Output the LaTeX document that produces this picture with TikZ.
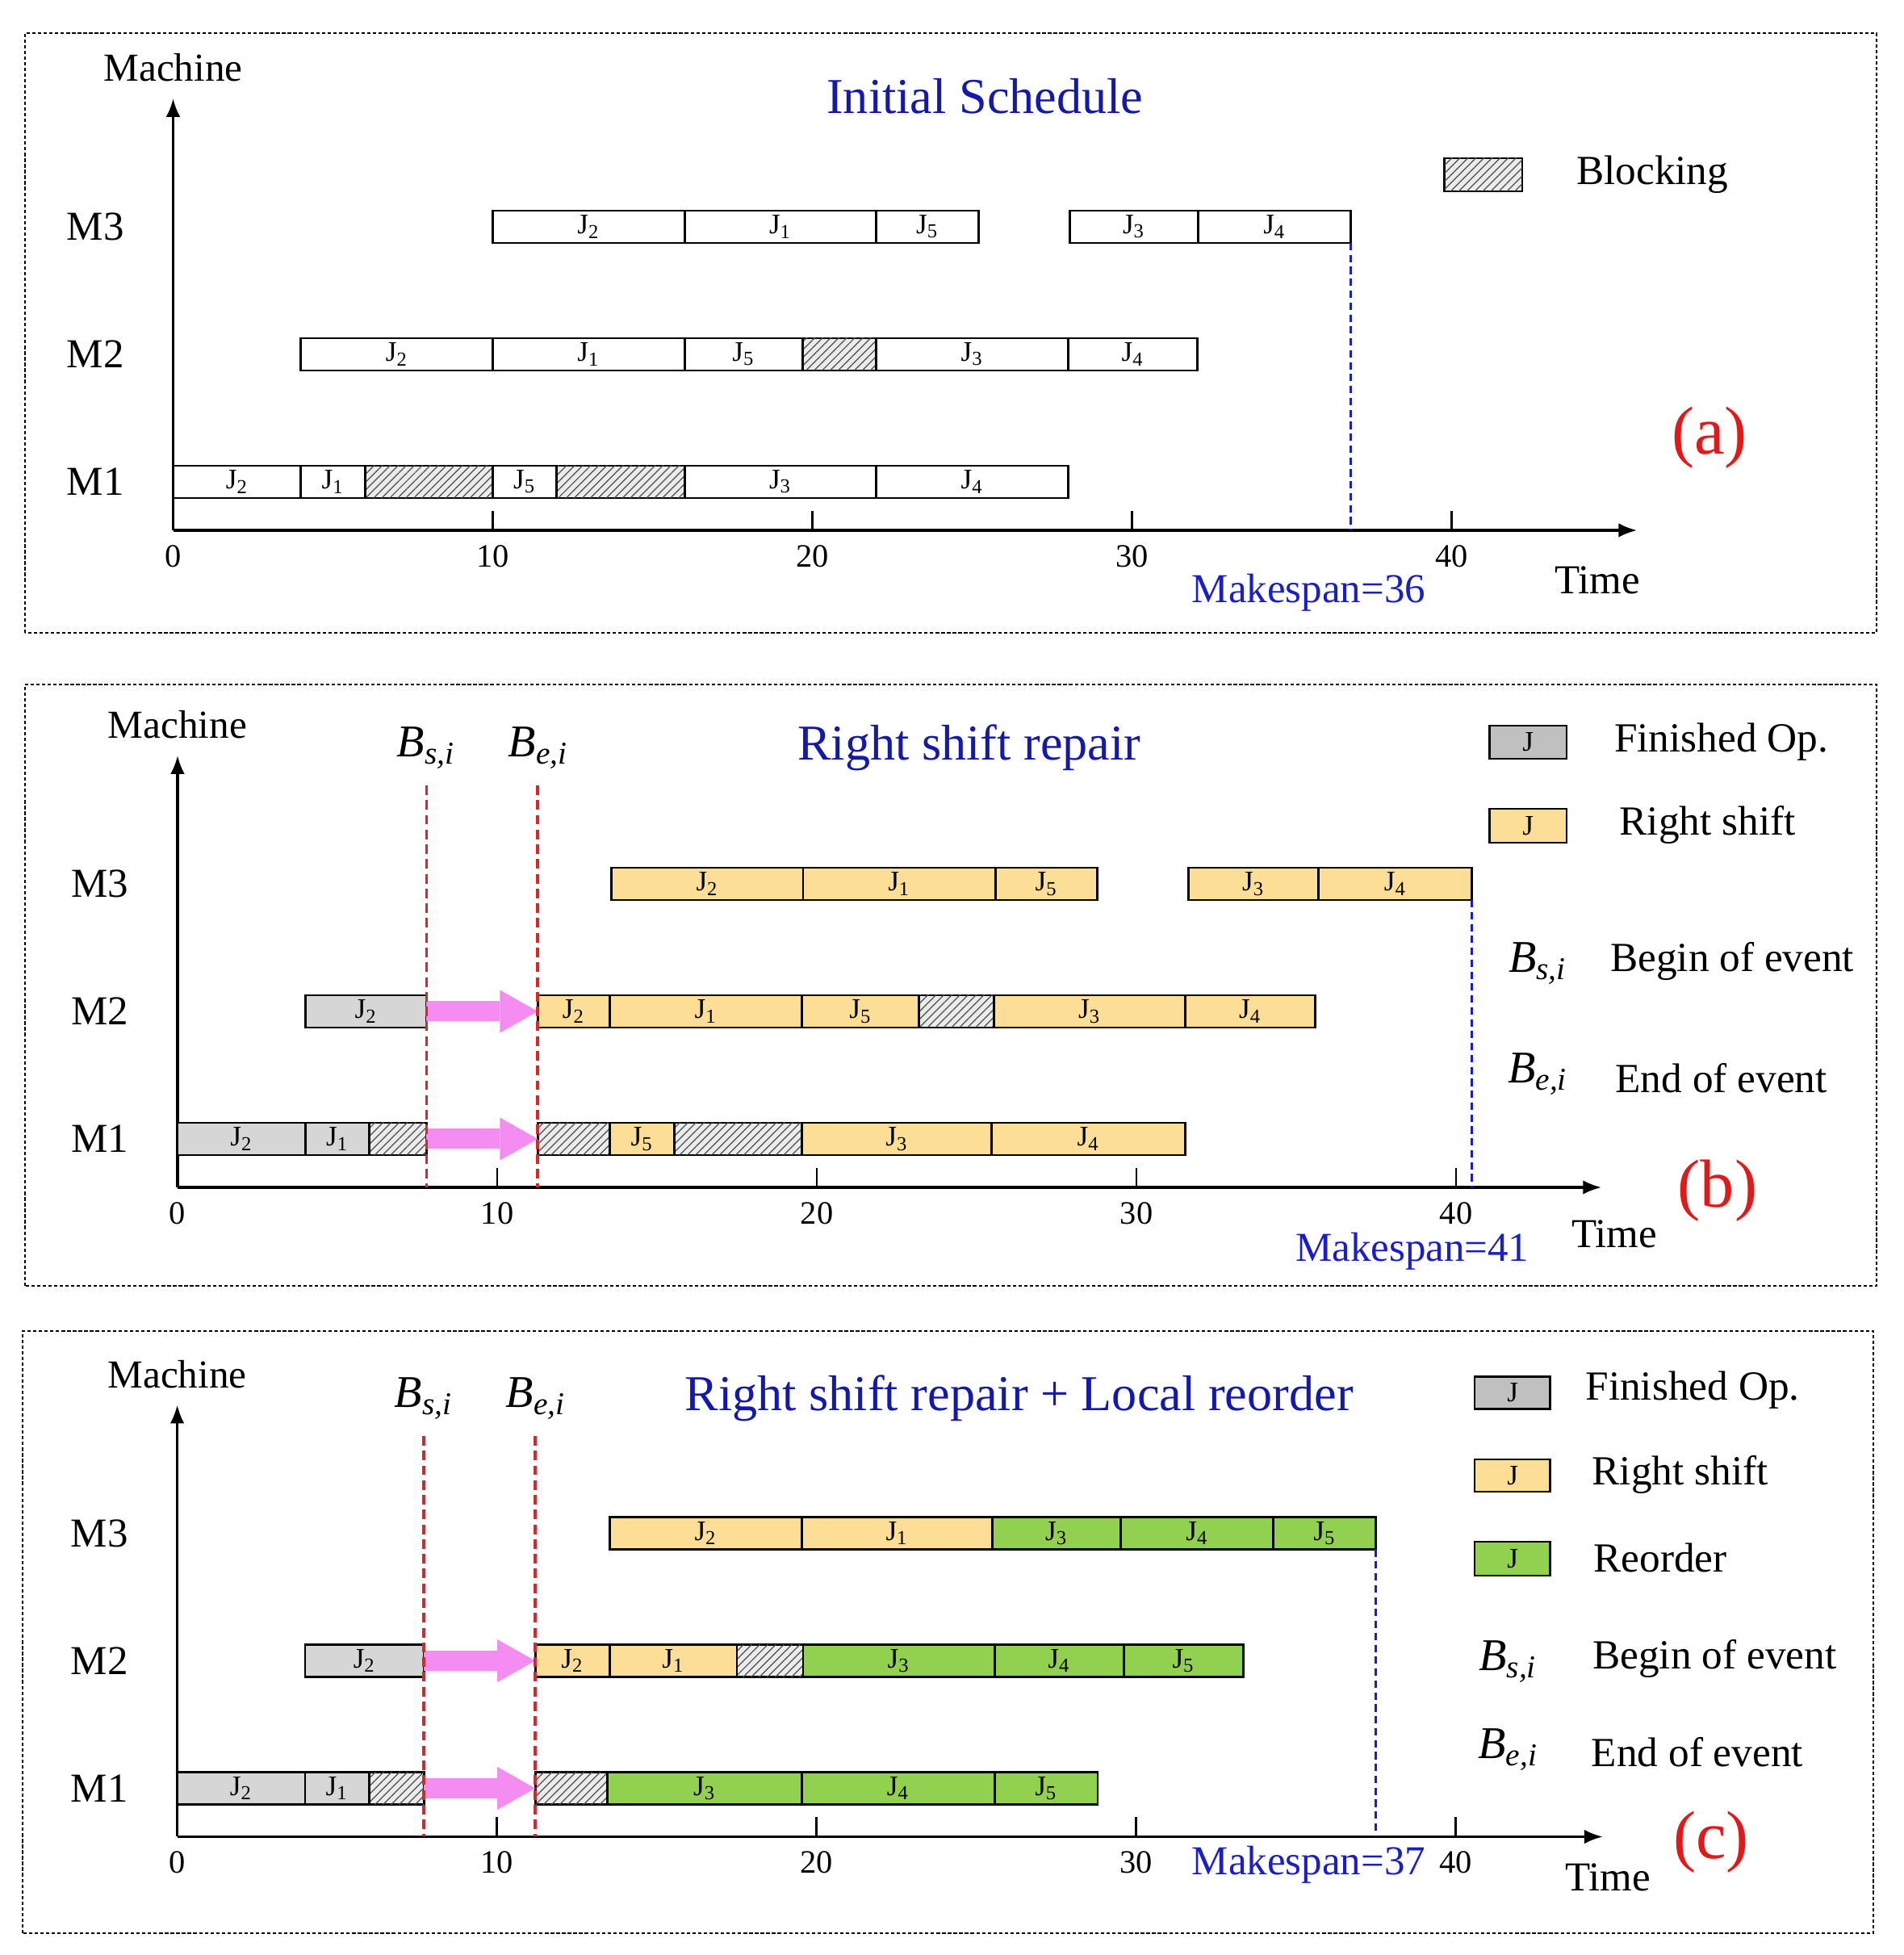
\documentclass[tikz,border=0pt]{standalone}
\usepackage{fontspec}
\setmainfont{Liberation Serif}
\usetikzlibrary{arrows.meta,patterns.meta}
\definecolor{fin_gray}{RGB}{214,214,214}
\definecolor{fin_gray_dark}{RGB}{192,192,192}
\definecolor{rs_yellow}{RGB}{253,222,150}
\definecolor{ro_green}{RGB}{146,208,80}
\definecolor{ev_pink}{RGB}{245,140,242}
\definecolor{ev_red}{RGB}{214,40,40}
\definecolor{ms_blue}{RGB}{25,30,200}
\definecolor{lab_red}{RGB}{225,25,25}
\tikzstyle{op}=[draw=black,line width=0.8pt,fill=white]
\tikzstyle{fin}=[op,fill=fin_gray]
\tikzstyle{finleg}=[op,fill=fin_gray_dark]
\tikzstyle{rs}=[op,fill=rs_yellow]
\tikzstyle{ro}=[op,fill=ro_green]
\tikzstyle{blk}=[op,fill=black!8,postaction={pattern={Lines[angle=45,distance=2pt,line width=0.35pt]},pattern color=black!70}]
\tikzstyle{jl}=[inner sep=0pt,font=\fontsize{10}{11}\selectfont]
\tikzstyle{machaxis}=[line width=0.9pt,-{Latex[length=6.5pt,width=5pt]}]
\tikzstyle{tickmark}=[line width=0.8pt]
\tikzstyle{ticklab}=[font=\fontsize{11.5}{12}\selectfont]
\tikzstyle{axlab}=[font=\fontsize{14}{16}\selectfont]
\tikzstyle{mlab}=[font=\fontsize{14.5}{16}\selectfont]
\tikzstyle{legtext}=[font=\fontsize{14.6}{16}\selectfont]
\tikzstyle{ptitle}=[text=ms_blue!85!black,font=\fontsize{17.7}{20}\selectfont]
\tikzstyle{mspan}=[text=ms_blue,font=\fontsize{14.5}{16}\selectfont]
\tikzstyle{plabel}=[text=lab_red,font=\fontsize{24}{26}\selectfont]
\tikzstyle{evlab}=[font=\fontsize{16}{18}\selectfont\itshape]
\tikzstyle{evline}=[ev_red,line width=1.1pt,dash pattern=on 3.4pt off 1.8pt]
\tikzstyle{msline}=[ms_blue,line width=0.8pt,dash pattern=on 2.6pt off 1.6pt]
\tikzstyle{rsarrow}=[ev_pink,line width=2.5mm,-{Triangle[length=4.7mm,width=5.3mm,line width=0pt]}]
\tikzstyle{panelframe}=[line width=0.6pt,dash pattern=on 1.2pt off 0.8pt]
\newcommand{\machineaxes}[1]{
  \coordinate (o) at (0,0);
  \coordinate (ytip) at (0,5.35);
  \coordinate (xtip) at (#1,0);
  \draw[machaxis] (o) -- (ytip);
  \draw[machaxis] (o) -- (xtip);
  \node[axlab] (mach) at (0,5.73) {Machine};
  \node[mlab] (m1) at (-2.43,0.6) {M1};
  \node[mlab] (m2) at (-2.43,2.18) {M2};
  \node[mlab] (m3) at (-2.43,3.76) {M3};
  \foreach \t in {10,20,30,40} \draw[tickmark] (\t,0) -- (\t,0.24);
  \foreach \t in {0,10,20,30,40} \node[ticklab] (t\t) at (\t,-0.32) {\t};
}

\begin{document}
\begin{tikzpicture}
  \useasboundingbox (0,0) rectangle (23.58,24.22);
  \draw[panelframe] (0.31,16.38) rectangle (23.25,23.81);
  \draw[panelframe] (0.31,8.29) rectangle (23.25,15.74);
  \draw[panelframe] (0.28,0.27) rectangle (23.21,7.73);

  \begin{scope}[shift={(2.145,17.65)},x=0.396cm]
    \machineaxes{45.8}
    \foreach \a/\b/\y in {6/10/0.6,12/16/0.6,19.7/22/2.18}
      \draw[blk] (\a,\y-0.2) rectangle (\b,\y+0.2);
    \foreach \a/\b/\y/\j [count=\i] in {0/4/0.6/2,4/6/0.6/1,10/12/0.6/5,16/22/0.6/3,22/28/0.6/4,
        4/10/2.18/2,10/16/2.18/1,16/19.7/2.18/5,22/28/2.18/3,28/32.05/2.18/4,
        10/16/3.76/2,16/22/3.76/1,22/25.2/3.76/5,28.05/32.07/3.76/3,32.07/36.85/3.76/4} {
      \draw[op] (\a,\y-0.2) rectangle (\b,\y+0.2);
      \node[jl] (a\i) at ({(\a+\b)/2},\y) {J\textsubscript{\j}};
    }
    \coordinate (mstop) at (36.85,3.56);
    \coordinate (msbot) at (36.85,0);
    \draw[msline] (mstop) -- (msbot);
    \node[ptitle] (title) at (25.4,5.38) {Initial Schedule};
    \draw[blk] (39.78,4.20) rectangle (42.21,4.61);
    \node[legtext] (blocking) at (46.28,4.41) {Blocking};
    \node[plabel] (pa) at (48.07,1.15) {(a)};
    \node[mspan] (ms) at (35.53,-0.77) {Makespan=36};
    \node[mlab] (time) at (44.56,-0.62) {Time};
  \end{scope}

  \begin{scope}[shift={(2.20,9.51)},x=0.396cm]
    \machineaxes{44.55}
    \foreach \a/\b/\y in {6/7.79/0.6,11.27/13.52/0.6,15.55/19.54/0.6,23.2/25.54/2.18}
      \draw[blk] (\a,\y-0.2) rectangle (\b,\y+0.2);
    \foreach \a/\b/\y/\s/\j [count=\i] in {0/4/0.6/fin/2,4/6/0.6/fin/1,13.52/15.55/0.6/rs/5,
        19.54/25.47/0.6/rs/3,25.47/31.53/0.6/rs/4,
        4/7.79/2.18/fin/2,11.27/13.52/2.18/rs/2,13.52/19.54/2.18/rs/1,19.54/23.2/2.18/rs/5,
        25.54/31.53/2.18/rs/3,31.53/35.59/2.18/rs/4,
        13.58/19.57/3.76/rs/2,19.57/25.59/3.76/rs/1,25.59/28.78/3.76/rs/5,
        31.62/35.7/3.76/rs/3,35.7/40.5/3.76/rs/4} {
      \draw[\s] (\a,\y-0.2) rectangle (\b,\y+0.2);
      \node[jl] (b\i) at ({(\a+\b)/2},\y) {J\textsubscript{\j}};
    }
    \coordinate (ps1) at (7.79,0.6);
    \coordinate (pe1) at (11.27,0.6);
    \coordinate (ps2) at (7.79,2.18);
    \coordinate (pe2) at (11.27,2.18);
    \draw[rsarrow] (ps1) -- (pe1);
    \draw[rsarrow] (ps2) -- (pe2);
    \coordinate (bstop) at (7.79,4.98);
    \coordinate (bsbot) at (7.79,0);
    \coordinate (betop) at (11.27,4.98);
    \coordinate (bebot) at (11.27,0);
    \draw[evline] (bstop) -- (bsbot);
    \draw[evline] (betop) -- (bebot);
    \node[evlab] (bs) at (7.78,5.445) {B\textsubscript{s,i}};
    \node[evlab] (be) at (11.29,5.445) {B\textsubscript{e,i}};
    \coordinate (mstop) at (40.5,3.56);
    \coordinate (msbot) at (40.5,0);
    \draw[msline] (mstop) -- (msbot);
    \node[ptitle] (title) at (24.77,5.445) {Right shift repair};
    \draw[finleg] (41.04,5.31) rectangle (43.46,5.72);
    \node[jl] (lj1) at (42.25,5.515) {J};
    \node[legtext] (finished) at (48.3,5.52) {Finished Op.};
    \draw[rs] (41.04,4.27) rectangle (43.46,4.69);
    \node[jl] (lj2) at (42.25,4.48) {J};
    \node[legtext] (rshift) at (47.87,4.49) {Right shift};
    \node[evlab] (lbs) at (42.56,2.77) {B\textsubscript{s,i}};
    \node[legtext] (begin) at (48.64,2.80) {Begin of event};
    \node[evlab] (lbe) at (42.56,1.40) {B\textsubscript{e,i}};
    \node[legtext] (end) at (48.3,1.35) {End of event};
    \node[plabel] (pb) at (48.18,-0.04) {(b)};
    \node[mspan] (ms) at (38.63,-0.79) {Makespan=41};
    \node[mlab] (time) at (44.95,-0.58) {Time};
  \end{scope}

  \begin{scope}[shift={(2.196,1.465)},x=0.396cm]
    \machineaxes{44.6}
    \foreach \a/\b/\y in {6/7.72/0.6,11.2/13.46/0.6,17.51/19.58/2.18}
      \draw[blk] (\a,\y-0.2) rectangle (\b,\y+0.2);
    \foreach \a/\b/\y/\s/\j [count=\i] in {0/4/0.6/fin/2,4/6/0.6/fin/1,13.46/19.54/0.6/ro/3,
        19.54/25.57/0.6/ro/4,25.57/28.8/0.6/ro/5,
        4/7.72/2.18/fin/2,11.2/13.53/2.18/rs/2,13.53/17.51/2.18/rs/1,19.58/25.57/2.18/ro/3,
        25.57/29.62/2.18/ro/4,29.62/33.35/2.18/ro/5,
        13.53/19.54/3.76/rs/2,19.54/25.5/3.76/rs/1,25.5/29.52/3.76/ro/3,
        29.52/34.3/3.76/ro/4,34.3/37.5/3.76/ro/5} {
      \draw[\s] (\a,\y-0.2) rectangle (\b,\y+0.2);
      \node[jl] (c\i) at ({(\a+\b)/2},\y) {J\textsubscript{\j}};
    }
    \coordinate (ps1) at (7.72,0.6);
    \coordinate (pe1) at (11.2,0.6);
    \coordinate (ps2) at (7.72,2.18);
    \coordinate (pe2) at (11.2,2.18);
    \draw[rsarrow] (ps1) -- (pe1);
    \draw[rsarrow] (ps2) -- (pe2);
    \coordinate (bstop) at (7.72,4.965);
    \coordinate (bsbot) at (7.72,0);
    \coordinate (betop) at (11.2,4.965);
    \coordinate (bebot) at (11.2,0);
    \draw[evline] (bstop) -- (bsbot);
    \draw[evline] (betop) -- (bebot);
    \node[evlab] (bs) at (7.71,5.425) {B\textsubscript{s,i}};
    \node[evlab] (be) at (11.22,5.425) {B\textsubscript{e,i}};
    \coordinate (mstop) at (37.5,3.56);
    \coordinate (msbot) at (37.5,0);
    \draw[msline] (mstop) -- (msbot);
    \node[ptitle] (title) at (26.34,5.43) {Right shift repair + Local reorder};
    \draw[finleg] (40.59,5.30) rectangle (42.96,5.70);
    \node[jl] (lj1) at (41.78,5.50) {J};
    \node[legtext] (finished) at (47.41,5.535) {Finished Op.};
    \draw[rs] (40.59,4.275) rectangle (42.96,4.675);
    \node[jl] (lj2) at (41.78,4.475) {J};
    \node[legtext] (rshift) at (47.02,4.49) {Right shift};
    \draw[ro] (40.59,3.235) rectangle (42.96,3.655);
    \node[jl] (lj3) at (41.78,3.445) {J};
    \node[legtext] (reorder) at (46.4,3.455) {Reorder};
    \node[evlab] (lbs) at (41.64,2.17) {B\textsubscript{s,i}};
    \node[legtext] (begin) at (48.1,2.205) {Begin of event};
    \node[evlab] (lbe) at (41.64,1.075) {B\textsubscript{e,i}};
    \node[legtext] (end) at (47.56,1.045) {End of event};
    \node[plabel] (pc) at (47.99,-0.065) {(c)};
    \node[mspan] (ms) at (35.4,-0.345) {Makespan=37};
    \node[mlab] (time) at (44.76,-0.5) {Time};
  \end{scope}
\end{tikzpicture}
\end{document}
